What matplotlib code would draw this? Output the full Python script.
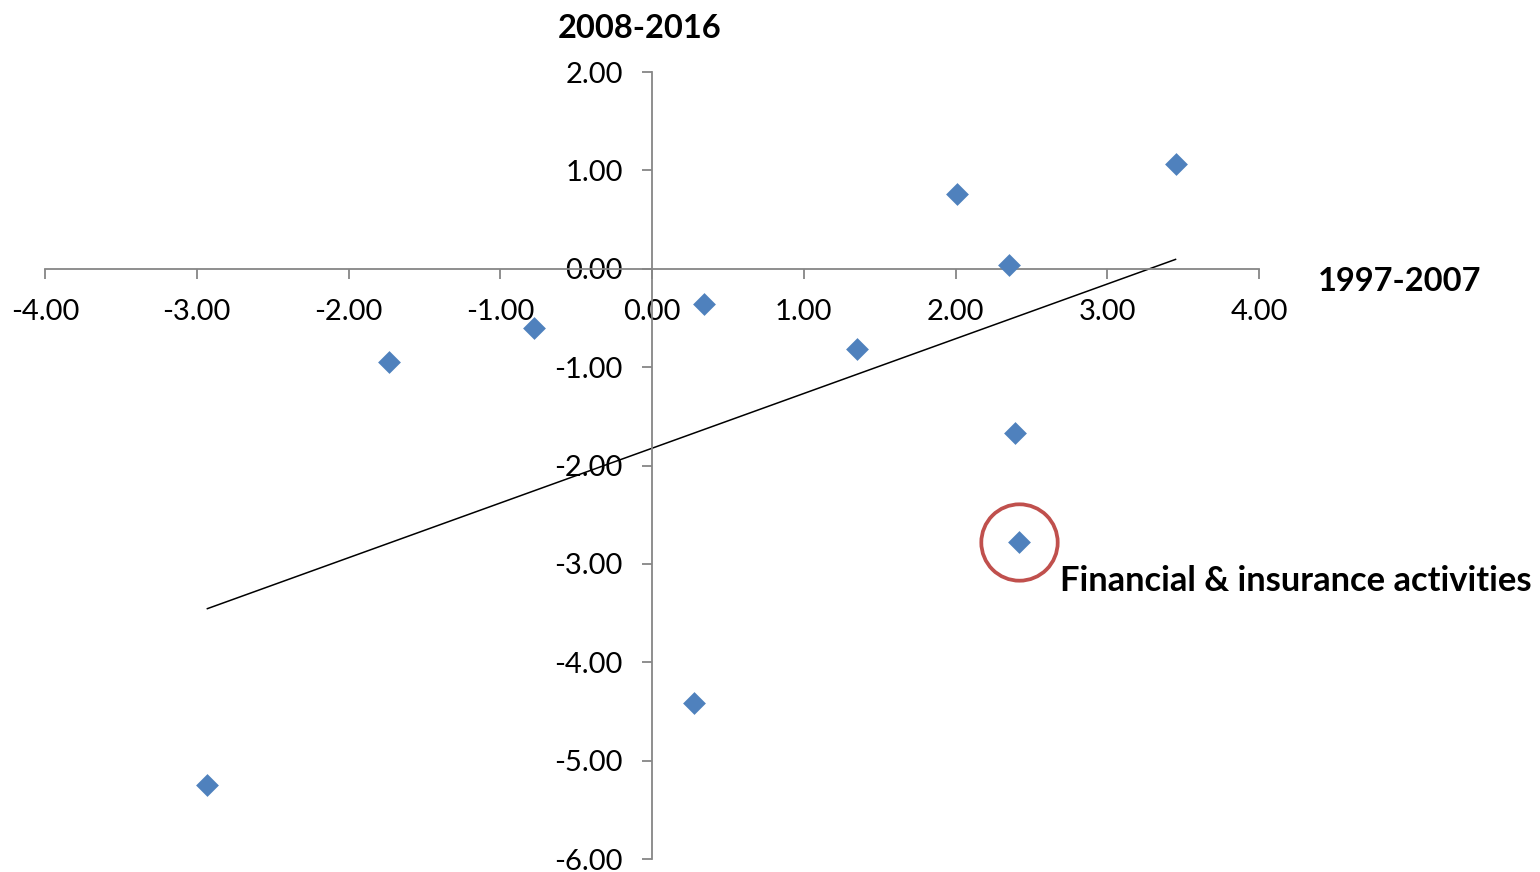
"""Scatter of productivity growth, 1997-2007 vs 2008-2016, Excel style."""

import matplotlib
matplotlib.use("Agg")
import matplotlib.pyplot as plt
import numpy as np

plt.rcParams["font.family"] = ["Lato", "DejaVu Sans"]

# Values
growth_1997_2007 = [3.45, 2.01, 2.35, 0.34, -0.78, -1.73, 1.35, 2.39, 2.42, 0.28, -2.93]
growth_2008_2016 = [1.06, 0.76, 0.04, -0.36, -0.60, -0.95, -0.82, -1.67, -2.78, -4.41, -5.25]
x_ticks = [-4, -3, -2, -1, 0, 1, 2, 3, 4]
y_ticks = [2, 1, 0, -1, -2, -3, -4, -5, -6]
highlight_label = "Financial & insurance activities"
highlight_idx = 8

AXIS_GREY = "#868686"
POINT_BLUE = "#4F81BD"
CIRCLE_RED = "#C0504D"

fig = plt.figure(figsize=(15.4, 8.72), dpi=100)
ax = fig.add_axes([45 / 1540, 13 / 872, 1214 / 1540, 787 / 872])

x = np.array(growth_1997_2007)
y = np.array(growth_2008_2016)

ax.scatter(x, y, marker="D", s=135, color=POINT_BLUE, zorder=3, linewidths=0)

# Linear trend line across the data range
slope, intercept = np.polyfit(x, y, 1)
xs = np.array([x.min(), x.max()])
ax.plot(xs, slope * xs + intercept, color="black", lw=1.1, zorder=2)

# Highlighted point: red ring plus label
hx, hy = x[highlight_idx], y[highlight_idx]
ax.plot([hx], [hy], marker="o", ms=55, mfc="none", mec=CIRCLE_RED, mew=2.7, zorder=4)
ax.annotate(highlight_label, xy=(hx, hy), xytext=(29, -28), textcoords="offset points",
            fontsize=24.8, fontweight="bold", ha="left", va="center")

ax.set_xlim(-4, 4)
ax.set_ylim(-6, 2)

for side in ("top", "right"):
    ax.spines[side].set_visible(False)
for side in ("left", "bottom"):
    ax.spines[side].set_position(("data", 0))
    ax.spines[side].set_color(AXIS_GREY)
    ax.spines[side].set_linewidth(1.3)

ax.set_xticks(x_ticks)
ax.set_yticks(y_ticks)
ax.set_xticklabels([f"{v:.2f}" for v in x_ticks])
ax.set_yticklabels([f"{v:.2f}" for v in y_ticks])
ax.tick_params(axis="both", direction="out", length=7, width=1.3, color=AXIS_GREY,
               labelsize=21, labelcolor="black")
ax.tick_params(axis="x", pad=15)
ax.tick_params(axis="y", pad=14)

ax.patch.set_alpha(0)

# Axis titles placed like the Excel chart
fig.text(640 / 1540, 1 - 28 / 872, "2008-2016", fontsize=23.5, fontweight="bold",
         ha="center", va="center")
fig.text(1400 / 1540, 1 - 281 / 872, "1997-2007", fontsize=23.5, fontweight="bold",
         ha="center", va="center")

fig.savefig("out.png", dpi=100)
